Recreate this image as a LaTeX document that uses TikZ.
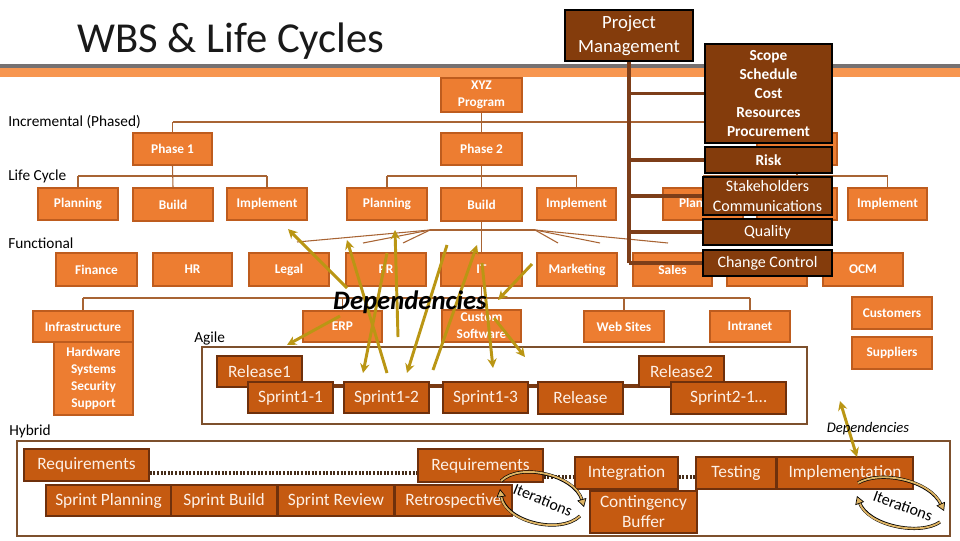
\documentclass[tikz,border=0pt]{standalone}
\usepackage{fontspec}
\setmainfont{Carlito}
\usetikzlibrary{arrows.meta}
\definecolor{ofill}{RGB}{237,125,49}
\definecolor{obord}{RGB}{190,92,30}
\definecolor{sfill}{RGB}{197,90,17}
\definecolor{sbord}{RGB}{110,48,12}
\definecolor{pmfill}{RGB}{132,60,12}
\definecolor{pmline}{RGB}{125,62,25}
\definecolor{treec}{RGB}{168,100,52}
\definecolor{depc}{RGB}{186,150,20}
\definecolor{hdrgray}{RGB}{118,113,113}
\definecolor{hdrorange}{RGB}{247,150,80}
\definecolor{framec}{RGB}{125,80,45}
\definecolor{itan}{RGB}{222,180,100}
\definecolor{dotc}{RGB}{70,45,25}
\definecolor{chainc}{RGB}{122,58,18}
\definecolor{stext}{RGB}{253,240,230}
\newcommand{\bx}[7]{%
 \pgfmathsetmacro\bxcx{(#2+#4)/2}\pgfmathsetmacro\bxcy{(#3+#5)/2}%
 \pgfmathsetmacro\bxw{(#4-#2)*0.75}\pgfmathsetmacro\bxh{(#5-#3)*0.75}%
 \node[#6, minimum width=\bxw pt, minimum height=\bxh pt] (#1) at (\bxcx,\bxcy) {#7};}
\tikzset{
 obox/.style={draw=obord, fill=ofill, line width=1.1pt, text=white, inner sep=0pt, align=center,
   font=\bfseries\fontsize{10}{12.75}\selectfont},
 sbox/.style={draw=sbord, fill=sfill, line width=1.1pt, text=stext, inner sep=0pt, align=center,
   font=\fontsize{13}{15}\selectfont},
 pmbox/.style={draw=black, fill=pmfill, line width=1.5pt, text=white, inner sep=0pt, align=center,
   font=\fontsize{12}{15}\selectfont},
 treeline/.style={draw=treec, line width=0.8pt},
 pmconn/.style={draw=pmline, line width=2.3pt},
 deparrow/.style={draw=depc, line width=2.2pt, -{Stealth[length=7pt,width=7pt]}},
 dotline/.style={draw=dotc, line width=2.4pt, dash pattern=on 1.6pt off 1.1pt},
 lbl/.style={anchor=west, inner sep=0pt, font=\fontsize{11.5}{13}\selectfont},
 itertext/.style={inner sep=0pt, font=\fontsize{12}{13}\selectfont},
}
\begin{document}
\begin{tikzpicture}[x=0.75pt,y=-0.75pt]
\useasboundingbox[fill=white] (0,0) rectangle (960,540);
% header
\fill[hdrgray] (0,64) rectangle (960,67.5);
\fill[hdrorange] (0,67.5) rectangle (960,77);
\node[inner sep=0pt, font=\fontsize{32}{36}\selectfont, text={rgb,255:red,25;green,25;blue,25}] (title) at (231,41) {WBS \& Life Cycles};

% tree lines
\coordinate (incbar) at (0,122);
\coordinate (lcbar) at (0,176);
\coordinate (itbar) at (0,298);
\bx{xyz}{441}{78}{522}{112}{obox}{XYZ\\Program}
\bx{ph1}{133}{133}{212}{165}{obox}{Phase 1}
\bx{ph2}{441}{133}{522}{165}{obox}{Phase 2}
\bx{ph3}{757}{133}{837}{165}{obox}{}
\bx{pl1}{38}{188}{118}{220}{obox}{Planning}
\bx{bu1}{133}{188}{213}{221}{obox}{Build}
\bx{im1}{227}{188}{307}{220}{obox}{Implement}
\bx{pl2}{347}{188}{427}{220}{obox}{Planning}
\bx{bu2}{441}{188}{522}{221}{obox}{Build}
\bx{im2}{537}{188}{616}{220}{obox}{Implement}
\bx{pl3}{663}{188}{743}{220}{obox}{Planning}
\bx{bu3}{757}{188}{837}{220}{obox}{}
\bx{im3}{848}{188}{927}{220}{obox}{Implement}
\bx{fin}{56}{253}{137}{286}{obox}{Finance}
\bx{hr}{153}{253}{232}{286}{obox}{HR}
\bx{legal}{249}{253}{329}{286}{obox}{Legal}
\bx{pr}{346}{253}{426}{286}{obox}{PR}
\bx{it}{441}{253}{522}{286}{obox}{IT}
\bx{mkt}{537}{253}{617}{286}{obox}{Marketing}
\bx{sales}{633}{253}{712}{286}{obox}{Sales}
\bx{hid}{727}{253}{807}{286}{obox}{}
\bx{ocm}{823}{253}{903}{286}{obox}{OCM}
\bx{infra}{33}{311}{133}{342}{obox}{Infrastructure}
\bx{hw}{54}{342}{133}{415}{obox}{Hardware\\Systems\\Security\\Support}
\bx{erp}{303}{311}{382}{342}{obox}{ERP}
\bx{cs}{442}{310}{521}{342}{obox}{Custom\\Software}
\bx{web}{584}{311}{664}{342}{obox}{Web Sites}
\bx{intra}{710}{311}{790}{342}{obox}{Intranet}
\bx{cust}{852}{297}{932}{329}{obox}{Customers}
\bx{supp}{852}{337}{932}{369}{obox}{Suppliers}

% connectors of the trees
\draw[treeline] (xyz.south) -- (xyz.south |- incbar);
\draw[treeline] (ph1.north |- incbar) -- (ph3.north |- incbar);
\draw[treeline] (ph1.north) -- (ph1.north |- incbar);
\draw[treeline] (ph2.north) -- (ph2.north |- incbar);
\draw[treeline] (ph3.north) -- (ph3.north |- incbar);
\draw[treeline] (ph1.south) -- (bu1.north);
\draw[treeline] (ph2.south) -- (bu2.north);
\draw[treeline] (ph3.south) -- (bu3.north);
\draw[treeline] (pl1.north |- lcbar) -- (im1.north |- lcbar);
\draw[treeline] (pl1.north) -- (pl1.north |- lcbar);
\draw[treeline] (im1.north) -- (im1.north |- lcbar);
\draw[treeline] (pl2.north |- lcbar) -- (im2.north |- lcbar);
\draw[treeline] (pl2.north) -- (pl2.north |- lcbar);
\draw[treeline] (im2.north) -- (im2.north |- lcbar);
\draw[treeline] (pl3.north |- lcbar) -- (im3.north |- lcbar);
\draw[treeline] (pl3.north) -- (pl3.north |- lcbar);
\draw[treeline] (im3.north) -- (im3.north |- lcbar);
% functional fan
\draw[treeline] (bu2.south) -- (it.north);
\coordinate (fl) at (430,230);
\coordinate (fr) at (535,230);
\coordinate (fa1) at (297,242);
\coordinate (fa2) at (363,243);
\coordinate (fa3) at (403,243);
\coordinate (fb1) at (558,243);
\coordinate (fb2) at (600,243);
\coordinate (fb3) at (668,243);
\draw[treeline] (fl) -- (fr);
\draw[treeline] (fl) -- (fa1);
\draw[treeline] (fl) -- (fa2);
\draw[treeline] (fl) -- (fa3);
\draw[treeline] (fr) -- (fb1);
\draw[treeline] (fr) -- (fb2);
\draw[treeline] (fr) -- (fb3);
% IT subtree
\draw[treeline] (it.south) -- (it.south |- itbar);
\draw[treeline] (infra.north |- itbar) -- (intra.north |- itbar);
\draw[treeline] (infra.north) -- (infra.north |- itbar);
\draw[treeline] (erp.north) -- (erp.north |- itbar);
\draw[treeline] (cs.north) -- (cs.north |- itbar);
\draw[treeline] (web.north) -- (web.north |- itbar);
\draw[treeline] (intra.north) -- (intra.north |- itbar);

% Agile
\draw[draw=framec, line width=1.5pt] (202,347) rectangle (807,424);
\draw[draw=chainc, line width=3pt] ([yshift=-3pt]248,382) -- ([yshift=-3pt]639,382);
\bx{rel1}{217}{356}{302}{387}{sbox}{Release1}
\bx{s11}{248}{382}{333}{413}{sbox}{Sprint1-1}
\bx{s12}{344}{382}{429}{413}{sbox}{Sprint1-2}
\bx{s13}{443}{382}{528}{413}{sbox}{Sprint1-3}
\bx{rel}{538}{382}{623}{414}{sbox}{Release}
\bx{rel2}{639}{356}{724}{387}{sbox}{Release2}
\bx{s21}{671}{382}{786}{414}{sbox}{Sprint2-1…}

% Hybrid
\draw[draw=framec, line width=1.5pt] (17,441) rectangle (950,536);
\bx{req1}{24}{449}{149}{481}{sbox}{Requirements}
\bx{sp}{46}{485}{171}{516}{sbox}{Sprint Planning}
\bx{sb}{171}{485}{277}{516}{sbox}{Sprint Build}
\bx{sr}{278}{485}{394}{516}{sbox}{Sprint Review}
\bx{retro}{395}{485}{512}{516}{sbox}{Retrospective}
\bx{req2}{418}{449}{543}{482}{sbox}{Requirements}
\bx{integ}{575}{457}{678}{489}{sbox}{Integration}
\bx{test}{696}{457}{776}{489}{sbox}{Testing}
\bx{impl}{777}{457}{913}{489}{sbox}{Implementation}
\bx{cont}{590}{491}{697}{533}{sbox}{Contingency\\Buffer}
\draw[dotline] ([yshift=-6pt]req1.east) -- ([yshift=-6pt]req1.east -| req2.west);
\draw[dotline] ([yshift=-3pt]integ.west -| req2.east) -- ([yshift=-3pt]integ.west);
\draw[dotline] ([yshift=-3pt]integ.east) -- ([yshift=-3pt]test.west);

% Project management
\bx{pm}{565}{10}{693}{61}{pmbox, font=\fontsize{14}{18}\selectfont}{Project\\Management}
\bx{scope}{705}{44}{832}{143}{pmbox, font=\bfseries\fontsize{11.5}{14.3}\selectfont}{Scope\\Schedule\\Cost\\Resources\\Procurement}
\bx{risk}{705}{147}{832}{173}{pmbox, font=\bfseries\fontsize{11.5}{14}\selectfont}{Risk}
\bx{stake}{703}{177}{832}{215}{pmbox}{Stakeholders\\Communications}
\bx{qual}{703}{219}{832}{245}{pmbox}{Quality}
\bx{cc}{703}{250}{832}{276}{pmbox}{Change Control}
\draw[pmconn] (pm.south) -- (cc.west -| pm.south);
\draw[pmconn] (scope.west -| pm.south) -- (scope.west);
\draw[pmconn] (risk.west -| pm.south) -- (risk.west);
\draw[pmconn] (stake.west -| pm.south) -- (stake.west);
\draw[pmconn] (qual.west -| pm.south) -- (qual.west);
\draw[pmconn] (cc.west -| pm.south) -- (cc.west);

% dependencies
\coordinate (d1a) at (347,288); \coordinate (d1b) at (288,229);
\coordinate (d2a) at (387,373); \coordinate (d2b) at (347,240);
\coordinate (d3a) at (398,337); \coordinate (d3b) at (395,230);
\coordinate (d4a) at (387,253); \coordinate (d4b) at (363,373);
\coordinate (d5a) at (447,245); \coordinate (d5b) at (407,373);
\coordinate (d6a) at (433,370); \coordinate (d6b) at (477,245);
\coordinate (d7a) at (482,263); \coordinate (d7b) at (493,368);
\coordinate (d8a) at (532,264); \coordinate (d8b) at (498,300);
\coordinate (d9a) at (494,318); \coordinate (d9b) at (525,357);
\coordinate (d10a) at (340,316); \coordinate (d10b) at (287,345);
\draw[deparrow] (d1a) -- (d1b);
\draw[deparrow] (d2a) -- (d2b);
\draw[deparrow] (d3a) -- (d3b);
\draw[deparrow] (d4a) -- (d4b);
\draw[deparrow] (d5a) -- (d5b);
\draw[deparrow] (d6a) -- (d6b);
\draw[deparrow] (d7a) -- (d7b);
\draw[deparrow] (d8a) -- (d8b);
\draw[deparrow] (d9a) -- (d9b);
\draw[deparrow] (d10a) -- (d10b);
\node[inner sep=0pt, font=\bfseries\itshape\fontsize{20}{22}\selectfont] (deps) at (410,302) {Dependencies};
\coordinate (ds1) at (840,401); \coordinate (ds2) at (857,457);
\draw[deparrow, {Stealth[length=7pt,width=7pt]}-{Stealth[length=7pt,width=7pt]}] (ds1) -- (ds2);
\node[inner sep=0pt, font=\itshape\fontsize{11}{12}\selectfont] (depsmall) at (868,429) {Dependencies};

% iterations
\coordinate (i1a) at (501,481); \coordinate (i1b) at (584,507);
\coordinate (i1c) at (580,516); \coordinate (i1d) at (500,489);
\coordinate (i2a) at (858,483); \coordinate (i2b) at (944,511);
\coordinate (i2c) at (940,522); \coordinate (i2d) at (857,496);
\foreach \p/\q/\ca/\cb in {i1a/i1b/{(520,462)}/{(575,475)}, i1c/i1d/{(560,535)}/{(505,522)}, i2a/i2b/{(880,470)}/{(930,480)}, i2c/i2d/{(920,536)}/{(868,526)}}{
  \draw[black, line width=2.4pt, shorten >=5pt] (\p) .. controls \ca and \cb .. (\q);
  \draw[itan, line width=1.4pt, -{Triangle[length=6pt,width=7pt,fill=itan,color=black,line width=0.5pt]}] (\p) .. controls \ca and \cb .. (\q);
}
\node[itertext, rotate=-22] (it1) at (543,500) {Iterations};
\node[itertext, rotate=-20] (it2) at (903,506) {Iterations};

% labels
\node[lbl] (lincr) at (8,122) {Incremental (Phased)};
\node[lbl] (llife) at (8,176) {Life Cycle};
\node[lbl] (lfunc) at (8,243) {Functional};
\node[lbl] (lagile) at (194,338) {Agile};
\node[lbl] (lhyb) at (9,431) {Hybrid};
\end{tikzpicture}
\end{document}
